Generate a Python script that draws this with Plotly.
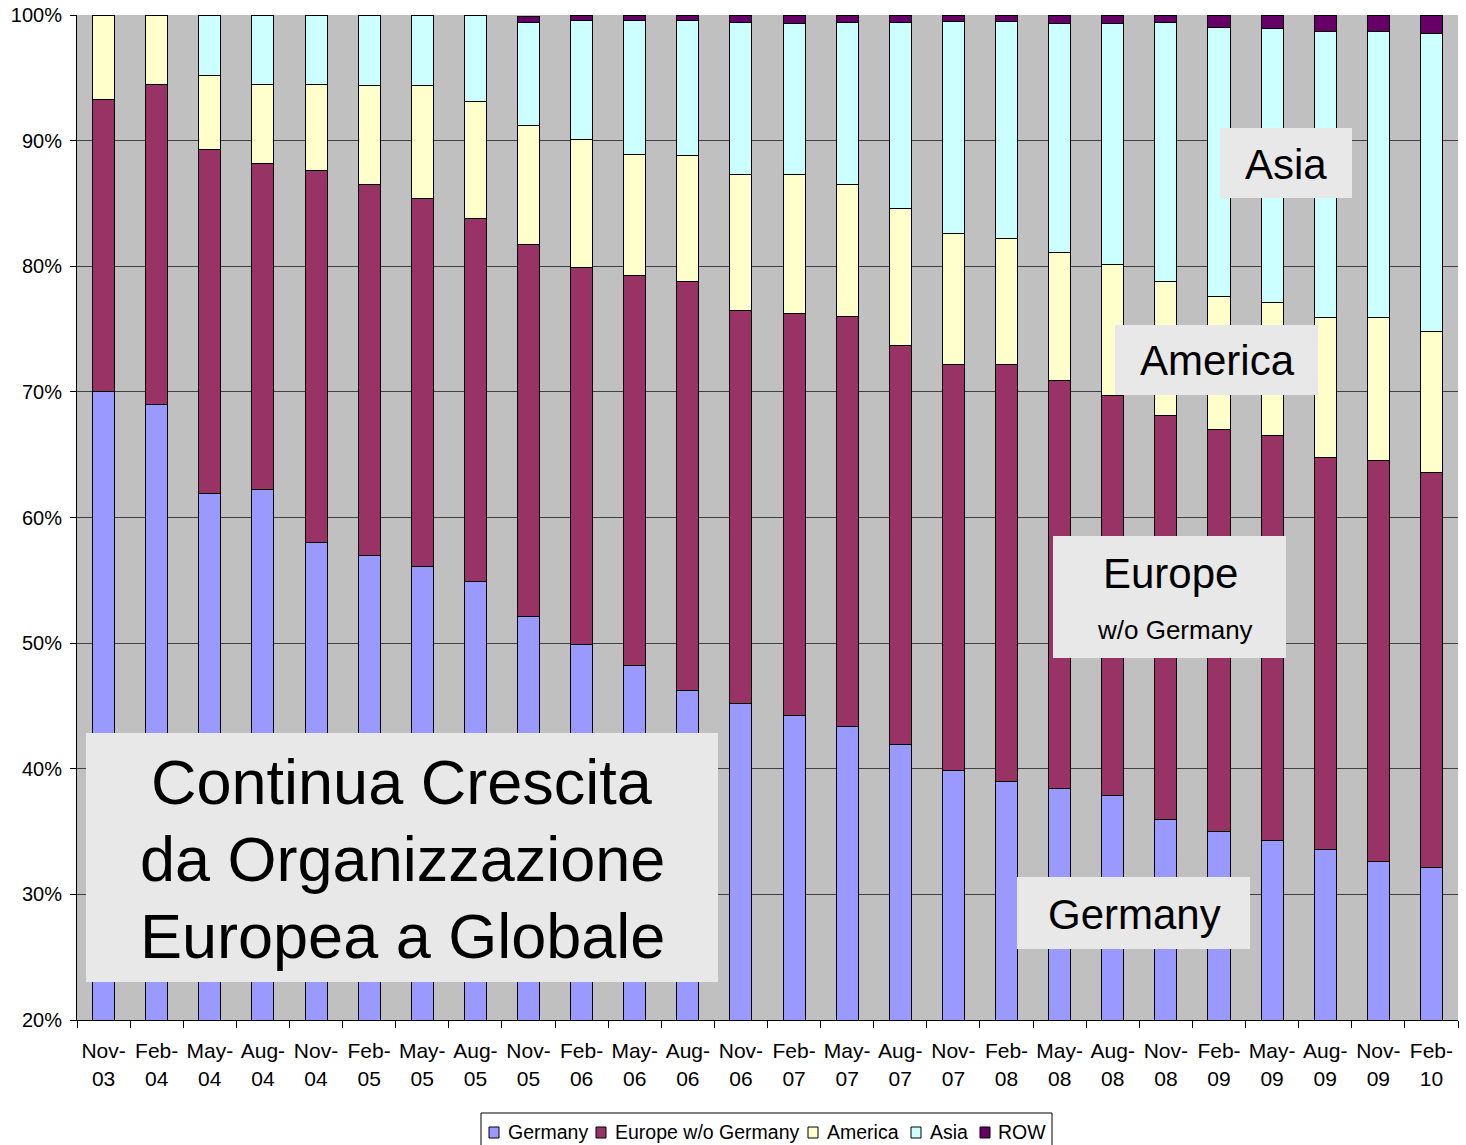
import plotly.graph_objects as go

# Quarterly share of staff by region (percent of total)
quarters = ["Nov-<br>03", "Feb-<br>04", "May-<br>04", "Aug-<br>04", "Nov-<br>04", "Feb-<br>05",
            "May-<br>05", "Aug-<br>05", "Nov-<br>05", "Feb-<br>06", "May-<br>06", "Aug-<br>06",
            "Nov-<br>06", "Feb-<br>07", "May-<br>07", "Aug-<br>07", "Nov-<br>07", "Feb-<br>08",
            "May-<br>08", "Aug-<br>08", "Nov-<br>08", "Feb-<br>09", "May-<br>09", "Aug-<br>09",
            "Nov-<br>09", "Feb-<br>10"]

germany = [70.0, 69.0, 61.9, 62.2, 58.0, 57.0, 56.1, 54.9, 52.1, 49.9, 48.2, 46.2, 45.2,
           44.2, 43.4, 41.9, 39.9, 39.0, 38.4, 37.9, 36.0, 35.0, 34.3, 33.6, 32.6, 32.1]
europe = [23.3, 25.5, 27.4, 26.0, 29.6, 29.5, 29.3, 28.9, 29.6, 30.0, 31.1, 32.6, 31.3,
          32.0, 32.6, 31.8, 32.3, 33.2, 32.5, 31.8, 32.1, 32.0, 32.2, 31.2, 31.9, 31.5]
america = [6.7, 5.5, 5.9, 6.3, 6.9, 7.9, 9.0, 9.3, 9.5, 10.2, 9.6, 10.0, 10.8,
           11.1, 10.5, 10.9, 10.4, 10.0, 10.2, 10.4, 10.7, 10.6, 10.6, 11.1, 11.4, 11.2]
asia = [0.0, 0.0, 4.8, 5.5, 5.5, 5.6, 5.6, 6.9, 8.2, 9.5, 10.7, 10.8, 12.1,
        12.0, 12.9, 14.8, 16.9, 17.3, 18.2, 19.2, 20.6, 21.4, 21.8, 22.8, 22.8, 23.7]
row = [0.0, 0.0, 0.0, 0.0, 0.0, 0.0, 0.0, 0.0, 0.5, 0.4, 0.4, 0.4, 0.6,
       0.7, 0.6, 0.6, 0.5, 0.5, 0.7, 0.7, 0.6, 1.0, 1.1, 1.3, 1.3, 1.5]

series_names = ["Germany", "Europe w/o Germany", "America", "Asia", "ROW"]
series_values = [germany, europe, america, asia, row]
series_colors = ["#9999FF", "#993366", "#FFFFCC", "#CCFFFF", "#660066"]

FONT = "Liberation Sans, Arial, sans-serif"

fig = go.Figure()
for name, vals, color in zip(series_names, series_values, series_colors):
    fig.add_trace(go.Bar(
        x=quarters, y=vals, name=name, showlegend=False,
        marker=dict(color=color, line=dict(color="#000000", width=1)),
    ))

# Plot-area geometry in pixels (figure is 1466 x 1145)
W, H = 1466, 1145
L, R, T, B = 77, 1458, 15, 1020


def px(x):
    return (x - L) / (R - L)


def py(y):
    return (B - y) / (B - T)


shapes = []
annotations = []

# Grey caption boxes laid over the bars
boxes = [
    (86, 733, 718, 982),
    (1220, 128, 1352, 198),
    (1115, 325, 1318, 395),
    (1053, 536, 1286, 658),
    (1017, 877, 1250, 949),
]
for a, b, c, d in boxes:
    shapes.append(dict(type="rect", xref="paper", yref="paper", layer="above",
                       x0=px(a), x1=px(c), y0=py(d), y1=py(b),
                       fillcolor="#E8E8E8", line=dict(width=0)))

labels = [
    ("Continua Crescita", 402, 782, 63),
    ("da Organizzazione", 402, 859, 63),
    ("Europea a Globale", 402, 936, 63),
    ("Asia", 1286, 164, 42),
    ("America", 1217, 361, 42),
    ("Europe", 1170, 573, 42),
    ("w/o Germany", 1175, 630, 26),
    ("Germany", 1134, 914, 42),
]
for t, x, y, s in labels:
    annotations.append(dict(text=t, xref="paper", yref="paper", x=px(x), y=py(y),
                            xanchor="center", yanchor="middle", showarrow=False,
                            font=dict(family=FONT, size=s, color="#000000")))

# Legend strip under the axis
shapes.append(dict(type="rect", xref="paper", yref="paper", layer="above",
                   x0=px(481), x1=px(1052), y0=py(1160), y1=py(1113),
                   fillcolor="#FFFFFF", line=dict(color="#000000", width=1)))
legend_x = [(489, 506), (596, 613), (808, 825), (911, 928), (980, 996)]
for (sx, tx), name, color in zip(legend_x, series_names, series_colors):
    shapes.append(dict(type="rect", xref="paper", yref="paper", layer="above",
                       x0=px(sx), x1=px(sx + 10), y0=py(1138), y1=py(1127),
                       fillcolor=color, line=dict(color="#000000", width=1)))
    annotations.append(dict(text=name, xref="paper", yref="paper", x=px(tx), y=py(1132),
                            xanchor="left", yanchor="middle", showarrow=False,
                            font=dict(family=FONT, size=19.5, color="#000000")))

fig.update_layout(
    width=W, height=H,
    margin=dict(l=L, r=W - R, t=T, b=H - B, autoexpand=False),
    barmode="stack", bargap=0.585,
    paper_bgcolor="#FFFFFF", plot_bgcolor="#C0C0C0",
    font=dict(family=FONT, size=20, color="#000000"),
    shapes=shapes, annotations=annotations,
    showlegend=False,
    xaxis=dict(
        showgrid=False, showline=True, linecolor="#000000", linewidth=1,
        ticks="outside", tickson="boundaries", ticklen=7, tickcolor="#000000",
        tickfont=dict(family=FONT, size=21), tickangle=0, ticklabelstandoff=12,
        automargin=False,
    ),
    yaxis=dict(
        range=[20, 100], dtick=10, ticksuffix="%",
        showgrid=True, gridcolor="#404040", gridwidth=1,
        showline=True, linecolor="#000000", linewidth=1,
        ticks="outside", ticklen=6, tickcolor="#000000",
        tickfont=dict(family=FONT, size=20), zeroline=False,
        ticklabelstandoff=4, automargin=False,
    ),
)

fig.write_html("out.html")
